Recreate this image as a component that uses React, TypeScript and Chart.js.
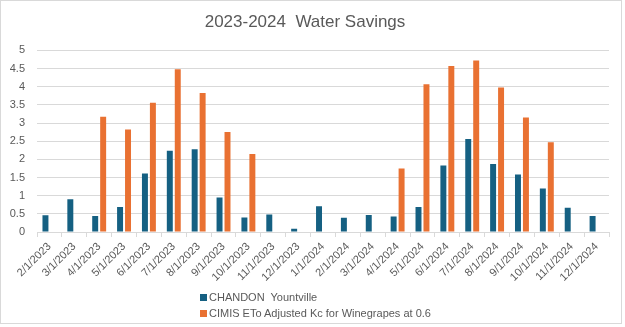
import React, { useEffect, useRef } from "react";
import { Chart, registerables } from "chart.js";

Chart.register(...registerables);

const categories = [
  "2/1/2023", "3/1/2023", "4/1/2023", "5/1/2023", "6/1/2023", "7/1/2023",
  "8/1/2023", "9/1/2023", "10/1/2023", "11/1/2023", "12/1/2023", "1/1/2024",
  "2/1/2024", "3/1/2024", "4/1/2024", "5/1/2024", "6/1/2024", "7/1/2024",
  "8/1/2024", "9/1/2024", "10/1/2024", "11/1/2024", "12/1/2024",
];

const chandonLabel = "CHANDON  Yountville";
const chandonValues = [
  0.46, 0.9, 0.44, 0.69, 1.61, 2.24, 2.28, 0.95, 0.4, 0.48, 0.09, 0.71,
  0.39, 0.47, 0.43, 0.69, 1.83, 2.56, 1.87, 1.58, 1.2, 0.67, 0.44,
];

const cimisLabel = "CIMIS ETo Adjusted Kc for Winegrapes at 0.6";
const cimisValues: (number | null)[] = [
  null, null, 3.17, 2.82, 3.56, 4.48, 3.83, 2.75, 2.15, null, null, null,
  null, null, 1.75, 4.07, 4.57, 4.72, 3.98, 3.15, 2.47, null, null,
];

const titleText = "2023-2024  Water Savings";

const BLUE = "#156082";
const ORANGE = "#E97132";
const TEXT = "#595959";
const GRID = "#d9d9d9";
const FONT = "'Liberation Sans', Arial, sans-serif";

export default function App() {
  const ref = useRef<HTMLCanvasElement | null>(null);

  useEffect(() => {
    const canvas = ref.current;
    if (!canvas) return;
    const chart = new Chart(canvas, {
      type: "bar",
      data: {
        labels: categories,
        datasets: [
          {
            label: chandonLabel,
            data: chandonValues,
            backgroundColor: BLUE,
            borderWidth: 0,
            categoryPercentage: 0.64,
            barPercentage: 0.75,
          },
          {
            label: cimisLabel,
            data: cimisValues,
            backgroundColor: ORANGE,
            borderWidth: 0,
            categoryPercentage: 0.64,
            barPercentage: 0.75,
          },
        ],
      },
      options: {
        responsive: false,
        animation: false,
        layout: { padding: { left: 0, right: 12, top: 0, bottom: 36 } },
        plugins: {
          legend: { display: false },
          tooltip: { enabled: false },
          title: {
            display: true,
            text: titleText,
            color: TEXT,
            font: { family: FONT, size: 17, weight: "normal" },
            padding: { top: 11, bottom: 18 },
          },
        },
        scales: {
          x: {
            offset: true,
            grid: {
              offset: true,
              drawOnChartArea: false,
              drawTicks: true,
              tickLength: 5,
              color: GRID,
            },
            border: { color: GRID },
            ticks: {
              color: TEXT,
              font: { family: FONT, size: 11 },
              maxRotation: 45,
              minRotation: 45,
              autoSkip: false,
              padding: 3,
            },
            afterFit: (scale: any) => {
              scale.height = 55;
            },
          },
          y: {
            min: 0,
            max: 5,
            ticks: {
              stepSize: 0.5,
              color: TEXT,
              font: { family: FONT, size: 11 },
              padding: 12,
              callback: (v: any) => String(Number(v)),
            },
            grid: { color: GRID, drawTicks: false },
            border: { display: false },
            afterFit: (scale: any) => {
              scale.width = 36;
            },
          },
        },
      },
    });
    return () => chart.destroy();
  }, []);

  const legendItem = (color: string, text: string) => (
    <div style={{ display: "flex", alignItems: "center", height: 16 }}>
      <span
        style={{
          display: "inline-block",
          width: 7,
          height: 7,
          background: color,
          marginRight: 2,
        }}
      />
      <span style={{ whiteSpace: "pre" }}>{text}</span>
    </div>
  );

  return (
    <div
      style={{
        position: "absolute",
        left: 0,
        top: 0,
        width: 622,
        height: 324,
        border: `1px solid ${GRID}`,
        boxSizing: "border-box",
        background: "#fff",
      }}
    >
      <canvas
        ref={ref}
        width={620}
        height={322}
        style={{ position: "absolute", left: 0, top: 0, width: 620, height: 322 }}
      />
      <div
        style={{
          position: "absolute",
          left: 199,
          top: 288,
          fontFamily: FONT,
          fontSize: 11,
          color: TEXT,
          lineHeight: "16px",
        }}
      >
        {legendItem(BLUE, chandonLabel)}
        {legendItem(ORANGE, cimisLabel)}
      </div>
    </div>
  );
}
